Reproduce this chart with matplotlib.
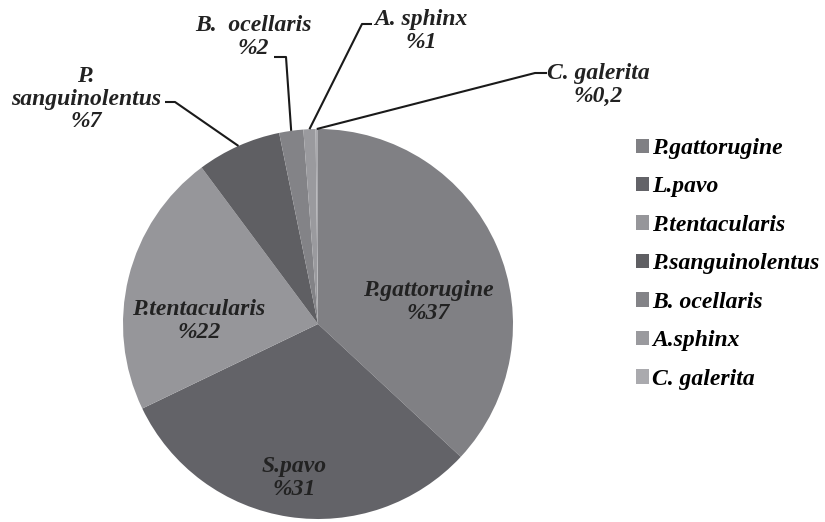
import numpy as np
import matplotlib
matplotlib.use('Agg')
import matplotlib.pyplot as plt
from matplotlib.patches import Patch

# data
species = ['P.gattorugine', 'S.pavo', 'P.tentacularis', 'P.\nsanguinolentus',
           'B.  ocellaris', 'A. sphinx', 'C. galerita']
legend_names = ['P.gattorugine', 'L.pavo', 'P.tentacularis', 'P.sanguinolentus',
                'B. ocellaris', 'A.sphinx', 'C. galerita']
shares = [37, 31, 22, 7, 2, 1, 0.2]
share_text = ['%37', '%31', '%22', '%7', '%2', '%1', '%0,2']
colors = ['#808084', '#636368', '#96969a', '#5f5f63', '#838387', '#9a9a9e', '#aaaaae']

plt.rcParams['font.family'] = ['Liberation Serif', 'DejaVu Serif']
FS = 17
font = dict(fontsize=FS, fontweight='bold', fontstyle='italic', color='#222222')

W, H = 825, 522
cx, cy, R = 318, 324, 195   # pie centre / radius in pixels (from top)

fig = plt.figure(figsize=(W / 100, H / 100), dpi=100)
ax = fig.add_axes([(cx - R) / W, (H - cy - R) / H, 2 * R / W, 2 * R / H])

wedges, _ = ax.pie(shares, colors=colors, startangle=90, counterclock=False,
                   radius=1, wedgeprops=dict(linewidth=0))
ax.set_xlim(-1, 1)
ax.set_ylim(-1, 1)
ax.axis('off')


def d(px, py):
    # pixel (from top-left) -> pie data coords
    return (px - cx) / R, (cy - py) / R


# labels inside the pie
inside = {0: (428, 302), 1: (294, 478), 2: (199, 321)}
for i, (px, py) in inside.items():
    x, y = d(px, py)
    ax.text(x, y, species[i] + '\n' + share_text[i], ha='center', va='center',
            linespacing=1.12, **font)

# labels outside with leader lines: text centre, elbow, line end
outside = {
    3: ((86, 99), (175, 102), (165, 102)),
    4: ((253, 37), (286, 57), (274, 57)),
    5: ((421, 31), (362, 24), (372, 24)),
    6: ((598, 85), (535, 73), (547, 73)),
}
for i, (tpos, elbow, end) in outside.items():
    w = wedges[i]
    a = np.deg2rad((w.theta1 + w.theta2) / 2)
    sx, sy = np.cos(a), np.sin(a)
    ex, ey = d(*elbow)
    fx, fy = d(*end)
    ax.plot([sx, ex, fx], [sy, ey, fy], color='#1a1a1a', lw=1.5,
            clip_on=False, solid_capstyle='butt')
    x, y = d(*tpos)
    ax.text(x, y, species[i] + '\n' + share_text[i], ha='center', va='center',
            linespacing=1.12, clip_on=False, **font)

# legend
handles = [Patch(facecolor=c, edgecolor='none') for c in colors]
fig.legend(handles, legend_names, loc='upper left',
           bbox_to_anchor=(636 / W, 1 - 138 / H), frameon=False,
           borderpad=0, borderaxespad=0,
           handlelength=0.55, handleheight=0.55, handletextpad=0.12,
           labelspacing=0.74,
           prop=dict(family='Liberation Serif', size=FS, weight='bold', style='italic'))

fig.savefig('out.png', dpi=100)
